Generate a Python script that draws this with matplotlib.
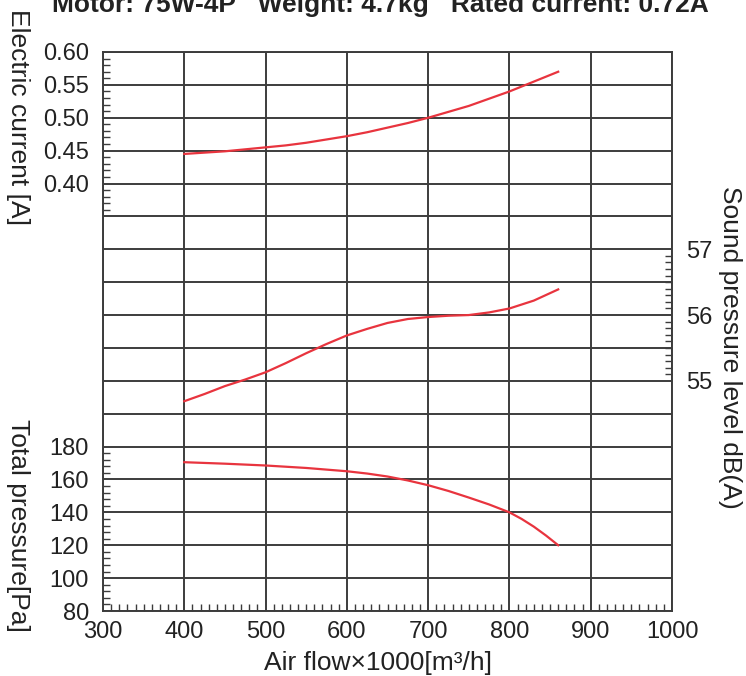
import numpy as np
import matplotlib
matplotlib.use("Agg")
import matplotlib.pyplot as plt
from matplotlib.ticker import FixedLocator

plt.rcParams['font.family'] = ['Liberation Sans', 'DejaVu Sans']

# ---- data ----
airflow_current = [400, 425, 450, 475, 500, 525, 550, 575, 600, 625, 650, 675,
                   700, 725, 750, 775, 800, 830, 860]
current_A = [0.445, 0.447, 0.449, 0.452, 0.455, 0.458, 0.462, 0.467, 0.472, 0.478,
             0.485, 0.492, 0.500, 0.509, 0.518, 0.529, 0.540, 0.555, 0.570]

airflow_sound = [400, 425, 450, 475, 500, 525, 550, 575, 600, 625, 650, 675,
                 700, 725, 750, 775, 800, 830, 860]
sound_dB = [54.69, 54.80, 54.92, 55.02, 55.13, 55.27, 55.42, 55.56, 55.69, 55.79,
            55.88, 55.94, 55.97, 55.99, 56.00, 56.04, 56.10, 56.22, 56.39]

airflow_pressure = [400, 450, 500, 550, 600, 625, 650, 675, 700, 725, 750, 775,
                    800, 815, 830, 845, 860]
pressure_Pa = [170.5, 169.6, 168.5, 167.0, 165.0, 163.6, 161.8, 159.4, 156.5, 153.0,
               149.0, 144.8, 140.0, 136.0, 131.3, 125.9, 120.0]

x_ticks = [300, 400, 500, 600, 700, 800, 900, 1000]
current_ticks = [0.40, 0.45, 0.50, 0.55, 0.60]
current_labels = ["0.40", "0.45", "0.50", "0.55", "0.60"]
pressure_ticks = [80, 100, 120, 140, 160, 180]
sound_ticks = [55, 56, 57]

title = "Motor: 75W-4P   Weight: 4.7kg   Rated current: 0.72A"

# ---- styling ----
grid_c = '#3c3c3c'
red = '#e8343e'
fs_tick = 17
fs_label = 19

fig = plt.figure(figsize=(7.46, 6.76), dpi=100)
rect = [103/746, 65/676, 569/746, 559/676]

ax_p = fig.add_axes(rect)
ax_c = fig.add_axes(rect, sharex=ax_p)
ax_s = fig.add_axes(rect, sharex=ax_p)
for a in (ax_c, ax_s):
    a.patch.set_visible(False)

# 17 grid units: pressure 20 Pa/unit from 80; current 0.05 A/unit; sound 0.5 dB/unit
ax_p.set_ylim(80, 80 + 17 * 20)
ax_c.set_ylim(0.40 - 13 * 0.05, 0.60)
ax_s.set_ylim(55 - 7 * 0.5, 55 + 10 * 0.5)
ax_p.set_xlim(300, 1000)

# grid on pressure axes
ax_p.set_yticks(np.arange(80, 80 + 17 * 20 + 1, 20))
ax_p.set_yticklabels([str(v) if v in pressure_ticks else "" for v in np.arange(80, 421, 20)])
ax_p.set_xticks(x_ticks)
ax_p.xaxis.set_minor_locator(FixedLocator(np.arange(300, 1001, 10)))
ax_p.yaxis.set_minor_locator(FixedLocator(np.arange(80, 181, 4)))
ax_p.grid(True, which='major', color=grid_c, linewidth=1.4)
ax_p.set_axisbelow(True)
ax_p.tick_params(axis='both', which='major', length=0, labelsize=fs_tick, colors='#222222')
ax_p.tick_params(axis='x', which='major', pad=7)
ax_p.tick_params(axis='y', which='major', pad=10)
ax_p.tick_params(axis='both', which='minor', direction='in', length=5, width=1.0, color=grid_c)
for sp in ax_p.spines.values():
    sp.set_color(grid_c)
    sp.set_linewidth(1.4)

# current axis (left labels)
ax_c.set_yticks(current_ticks)
ax_c.set_yticklabels(current_labels)
ax_c.yaxis.set_minor_locator(FixedLocator(np.arange(0.36, 0.6001, 0.01)))
ax_c.tick_params(axis='y', which='major', length=0, labelsize=fs_tick, pad=10, colors='#222222')
ax_c.tick_params(axis='y', which='minor', direction='in', length=5, width=1.0, color=grid_c)
ax_c.tick_params(axis='x', which='both', length=0, labelbottom=False)
for sp in ax_c.spines.values():
    sp.set_visible(False)

# sound axis (right labels)
ax_s.yaxis.tick_right()
ax_s.set_yticks(sound_ticks)
ax_s.set_yticklabels([str(v) for v in sound_ticks])
ax_s.yaxis.set_minor_locator(FixedLocator(np.arange(55.1, 56.95, 0.1)))
ax_s.tick_params(axis='y', which='major', length=0, labelsize=fs_tick, pad=10, colors='#222222')
ax_s.tick_params(axis='y', which='minor', direction='in', length=5, width=1.0, color=grid_c)
ax_s.tick_params(axis='x', which='both', length=0, labelbottom=False)
for sp in ax_s.spines.values():
    sp.set_visible(False)

# curves
ax_c.plot(airflow_current, current_A, color=red, linewidth=1.6, solid_joinstyle='round')
ax_s.plot(airflow_sound, sound_dB, color=red, linewidth=1.6, solid_joinstyle='round')
ax_p.plot(airflow_pressure, pressure_Pa, color=red, linewidth=1.6, zorder=3,
          solid_joinstyle='round')

# texts
fig.text(380/746, 1 - 12/676, title, ha='center', va='baseline',
         fontsize=19, fontweight='bold', color='#222222')
fig.text(18/746, 1 - 117/676, "Electric current [A]", rotation=270,
         ha='center', va='center', fontsize=fs_label, color='#222222')
fig.text(18/746, 1 - 525/676, "Total pressure[Pa]", rotation=270,
         ha='center', va='center', fontsize=fs_label, color='#222222')
fig.text(730/746, 1 - 347/676, "Sound pressure level dB(A)", rotation=270,
         ha='center', va='center', fontsize=fs_label, color='#222222')
fig.text(378/746, 1 - 663/676, "Air flow×1000[m³/h]",
         ha='center', va='center', fontsize=fs_label, color='#222222')

fig.savefig("out.png", dpi=100)
